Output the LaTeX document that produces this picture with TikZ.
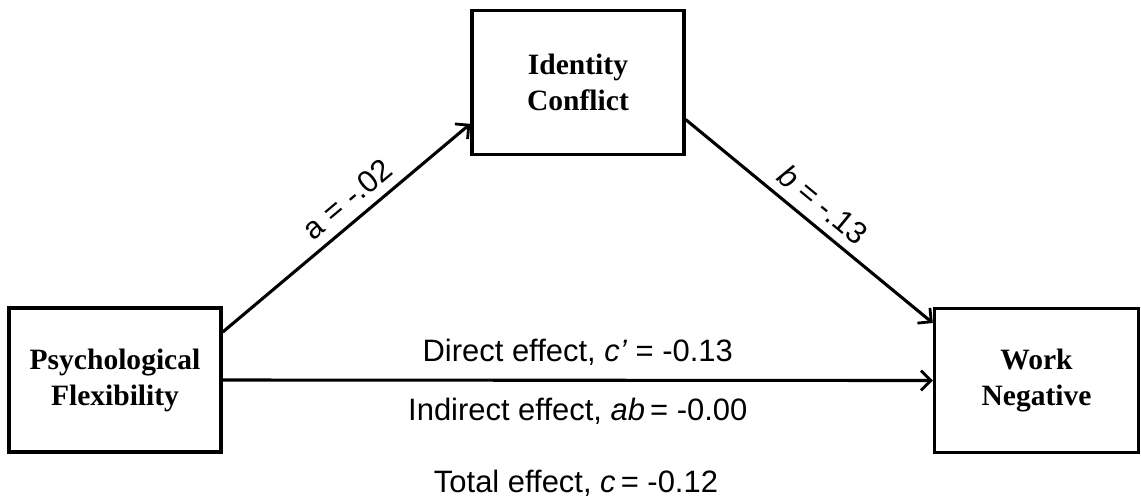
\documentclass[tikz,border=0pt]{standalone}
\usepackage{fontspec}
\setmainfont{Liberation Serif}
\newfontfamily\arialfont{Liberation Sans}
\usetikzlibrary{positioning, arrows.meta}

\tikzset{
  varbox/.style={draw, line width=2.4pt, minimum width=5.3cm, minimum height=3.6cm,
    align=center, font=\fontsize{21}{25.6}\selectfont\bfseries, inner sep=0pt},
  path link/.style={-{Straight Barb[length=7pt, width=14pt, line width=2pt]}, line width=2.2pt},
  effect/.style={font=\arialfont\fontsize{22}{26}\selectfont}
}

\begin{document}
\begin{tikzpicture}[x=0.025cm, y=-0.025cm]
    % Fix the page size
    \useasboundingbox (0,0) rectangle (1141,502);

    % Draw the three variables
    \node[varbox] (psy) at (115,380) {Psychological\\Flexibility};
    \node[varbox] (idc) at (578,82.5) {Identity\\Conflict};
    \node[varbox, minimum width=5.1cm] (work) at (1036.5,380.5) {Work\\Negative};

    % Draw the a and b paths
    \draw[path link] (psy.24) -- (idc.201)
        node[pos=.56, sloped, above=3pt, effect] {a = -.02};
    \draw[path link] (idc.-19) -- (work.151)
        node[pos=.5, sloped, above=3pt, effect] {\textit{b} = -.13};

    % Draw the direct path
    \draw[path link] (psy.east) -- (work.west)
        node[midway, above=6pt, effect] {Direct effect, \textit{c’} = -0.13}
        node[midway, below=8pt, effect] {Indirect effect, \textit{ab}\,= -0.00};

    % Add the total effect
    \node[effect] (total) at (576,483) {Total effect, \textit{c}\,= -0.12};
\end{tikzpicture}
\end{document}
